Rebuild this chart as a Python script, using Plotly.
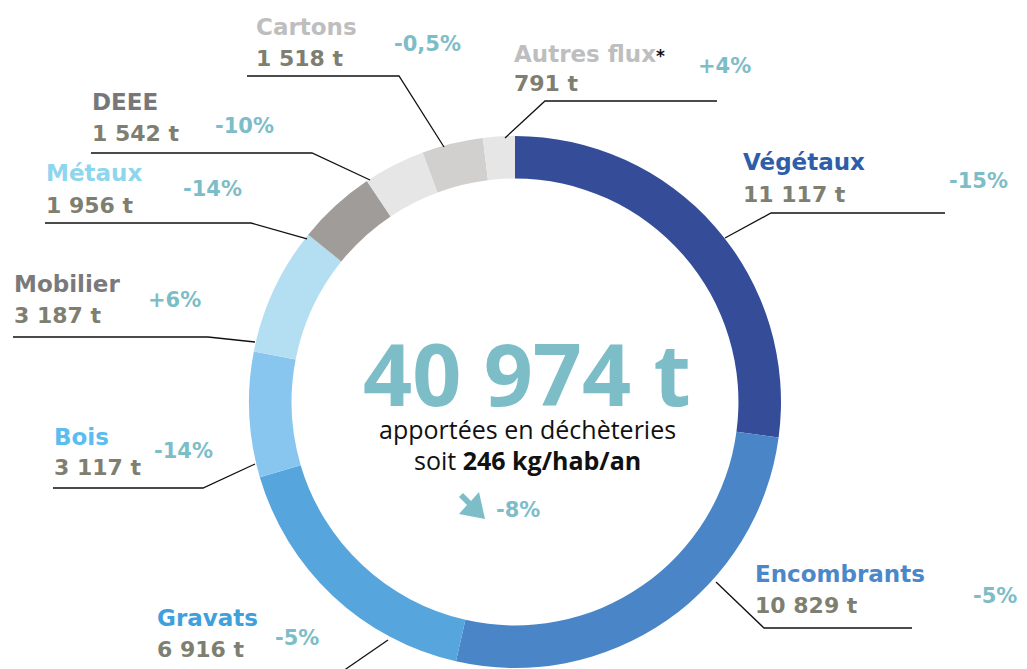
import plotly.graph_objects as go

# ---------------- data ----------------
categories = ["Végétaux", "Encombrants", "Gravats", "Bois", "Mobilier",
              "Métaux", "DEEE", "Cartons", "Autres flux"]
tonnages = [11117, 10829, 6916, 3117, 3187, 1956, 1542, 1518, 791]
value_labels = ["11 117 t", "10 829 t", "6 916 t", "3 117 t", "3 187 t",
                "1 956 t", "1 542 t", "1 518 t", "791 t"]
evolutions = ["-15%", "-5%", "-5%", "-14%", "+6%", "-14%", "-10%", "-0,5%", "+4%"]
total_label = "40 974 t"
per_hab_label = "246 kg/hab/an"
total_evolution = "-8%"

# ---------------- styles ----------------
W, H = 1027, 669
OFF = 8  # page body margin offset in the browser
slice_colors = ["#354C99", "#4A86C7", "#57A5DD", "#88C6EF", "#B4DEF2",
                "#A09C99", "#E6E6E6", "#D1D0CF", "#E6E6E6"]
name_colors = ["#2E5DAA", "#4A88CA", "#3EA0DD", "#5BBDEE", "#7A7A7D",
               "#8ED6EE", "#77777A", "#BEBEBE", "#BEBEBE"]
VALUE_COLOR = "#7E7F70"
PCT_COLOR = "#7DBDC8"
LABEL_FONT = "DejaVu Sans"
CENTER_FONT = "Open Sans"

# label layout (target pixel positions in the screenshot)
name_pos = [(741, 162), (753, 574), (155, 618), (52, 437), (12, 284),
            (44, 173), (90, 102), (254, 27), (512, 54)]
value_pos = [(741, 194), (753, 605), (155, 649), (52, 468), (12, 315),
             (44, 205), (90, 133), (254, 58), (512, 83)]
pct_pos = [(978, 181), (995, 596), (297, 638), (183, 451), (174, 300),
           (212, 189), (244, 126), (427, 44), (724, 66)]
leaders = [
    [(725, 238), (771, 213), (945, 213)],
    [(716, 582), (764, 628), (912, 628)],
    [(388, 640), (343, 671)],
    [(255, 464), (203, 488), (53, 488)],
    [(255, 342), (208, 337), (13, 337)],
    [(307, 239), (251, 223), (45, 223)],
    [(370, 180), (312, 153), (91, 153)],
    [(444, 147), (399, 76), (247, 76)],
    [(505, 138), (545, 101), (717, 101)],
]

CX, CY, R = 515, 402, 266


def px(x, y):
    return (x - OFF) / W, 1 - (y - OFF) / H


fig = go.Figure(go.Pie(
    labels=categories, values=tonnages, sort=False, direction="clockwise",
    rotation=0, hole=0.84, textinfo="none", hoverinfo="label+value",
    marker=dict(colors=slice_colors, line=dict(width=0)),
    domain=dict(x=[(CX - OFF - R) / W, (CX - OFF + R) / W],
                y=[(H - (CY - OFF) - R) / H, (H - (CY - OFF) + R) / H]),
    showlegend=False,
))

annotations = []
for i, cat in enumerate(categories):
    nx, ny = px(*name_pos[i])
    txt = f"<b>{cat}</b>"
    if cat == "Autres flux":
        txt += "<span style='color:#111111;font-size:17px'><b>*</b></span>"
    annotations.append(dict(x=nx, y=ny, xref="paper", yref="paper", text=txt,
                            showarrow=False, xanchor="left", yanchor="middle",
                            font=dict(family=LABEL_FONT, size=23, color=name_colors[i])))
    vx, vy = px(*value_pos[i])
    annotations.append(dict(x=vx, y=vy, xref="paper", yref="paper",
                            text=f"<b>{value_labels[i]}</b>", showarrow=False,
                            xanchor="left", yanchor="middle",
                            font=dict(family=LABEL_FONT, size=22, color=VALUE_COLOR)))
    qx, qy = px(*pct_pos[i])
    annotations.append(dict(x=qx, y=qy, xref="paper", yref="paper",
                            text=f"<b>{evolutions[i]}</b>", showarrow=False,
                            xanchor="center", yanchor="middle",
                            font=dict(family=LABEL_FONT, size=21, color=PCT_COLOR)))

# centre texts
cx, cy = px(527, 372)
annotations.append(dict(x=cx, y=cy, xref="paper", yref="paper",
                        text=f"<b>{total_label}</b>", showarrow=False,
                        xanchor="center", yanchor="middle",
                        font=dict(family=CENTER_FONT, size=86, color=PCT_COLOR, weight=800)))
cx, cy = px(527, 429)
annotations.append(dict(x=cx, y=cy, xref="paper", yref="paper",
                        text="apportées en déchèteries", showarrow=False,
                        xanchor="center", yanchor="middle",
                        font=dict(family=CENTER_FONT, size=25, color="#111111")))
cx, cy = px(527, 460)
annotations.append(dict(x=cx, y=cy, xref="paper", yref="paper",
                        text=f"soit <b>{per_hab_label}</b>", showarrow=False,
                        xanchor="center", yanchor="middle",
                        font=dict(family=CENTER_FONT, size=25, color="#111111")))
cx, cy = px(518, 510)
annotations.append(dict(x=cx, y=cy, xref="paper", yref="paper",
                        text=f"<b>{total_evolution}</b>", showarrow=False,
                        xanchor="center", yanchor="middle",
                        font=dict(family=LABEL_FONT, size=21, color=PCT_COLOR)))

shapes = []
for pts in leaders:
    path = "M " + " L ".join(f"{px(x, y)[0]:.5f},{px(x, y)[1]:.5f}" for x, y in pts)
    shapes.append(dict(type="path", path=path, xref="paper", yref="paper",
                       line=dict(color="#111111", width=1.3)))

# down-right arrow next to total evolution
arrow_px = [(463, 493), (471, 501), (479, 492), (485, 519), (459, 514),
            (467, 505), (459, 497)]
apath = "M " + " L ".join(f"{px(x, y)[0]:.5f},{px(x, y)[1]:.5f}" for x, y in arrow_px) + " Z"
shapes.append(dict(type="path", path=apath, xref="paper", yref="paper",
                   fillcolor=PCT_COLOR, line=dict(width=0)))

fig.update_layout(
    width=W, height=H, margin=dict(l=0, r=0, t=0, b=0),
    paper_bgcolor="white", plot_bgcolor="white",
    annotations=annotations, shapes=shapes,
)

fig.write_html("out.html")
